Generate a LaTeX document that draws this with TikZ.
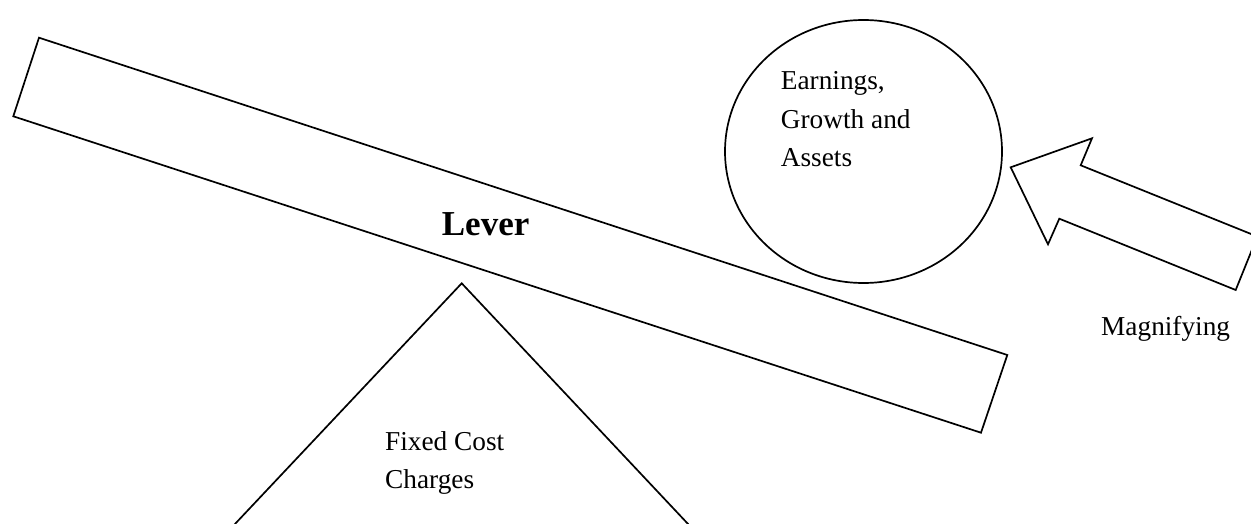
\documentclass[tikz,border=0pt]{standalone}
\usepackage{fontspec}
\setmainfont{Liberation Serif}
\begin{document}
\begin{tikzpicture}[x=1pt,y=-1pt,
  shapeline/.style={draw=black,line width=1.7pt,line join=miter},
  lbl/.style={anchor=base west,inner sep=0pt,font=\fontsize{27.3}{38}\selectfont},
  biglbl/.style={anchor=base west,inner sep=0pt,font=\fontsize{35}{40}\selectfont\bfseries}]
\useasboundingbox (0,0) rectangle (1251,524);
\clip (0,0) rectangle (1251,524);
% lever
\draw[shapeline] (39,37.7) -- (1007.3,355) -- (981,432.7) -- (13.3,116.3) -- cycle;
% fulcrum
\draw[shapeline] (219.9,540) -- (461.7,283.3) -- (703.1,540);
% circle
\draw[shapeline] (863.5,151.5) ellipse [x radius=138.5, y radius=131.5];
% arrow
\draw[shapeline] (1010.7,167.3) -- (1092,138.3) -- (1080.7,165.3) -- (1257.3,236.5)
  -- (1235.7,290) -- (1059.3,218.7) -- (1048,244.3) -- cycle;
% texts
\node[biglbl] (lever) at (441.7,235) {Lever};
\node[lbl] (e1) at (780.7,89.3) {Earnings,};
\node[lbl] (e2) at (780.7,128.3) {Growth and};
\node[lbl] (e3) at (780.7,166.7) {Assets};
\node[lbl] (f1) at (385,450) {Fixed Cost};
\node[lbl] (f2) at (385,488) {Charges};
\node[lbl] (mag) at (1101,335) {Magnifying};
\end{tikzpicture}
\end{document}
